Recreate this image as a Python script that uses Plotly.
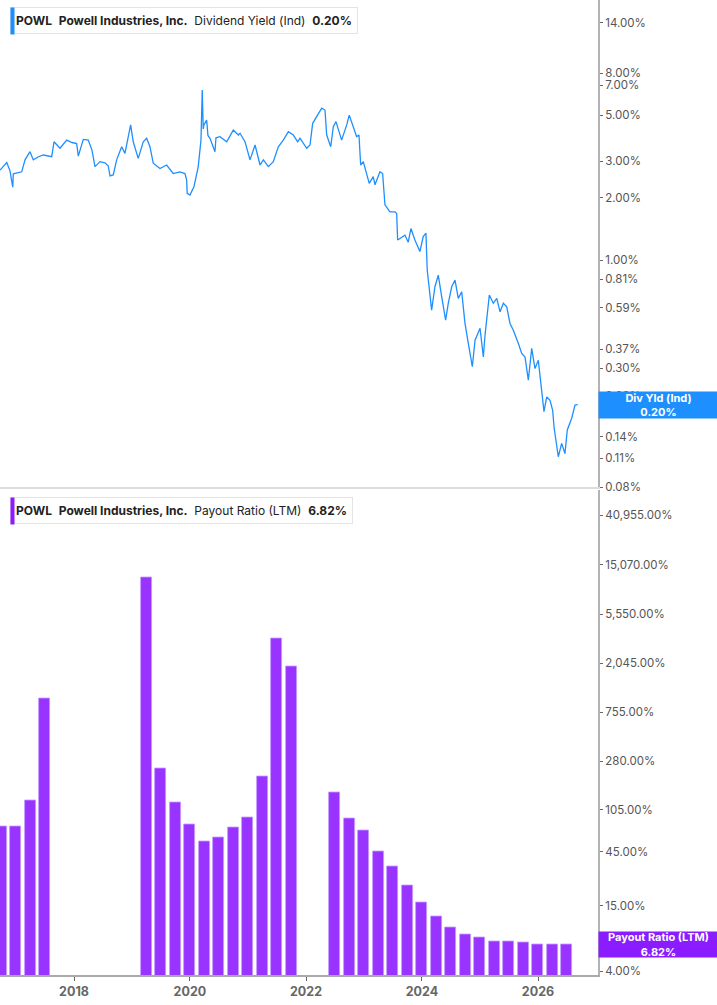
import plotly.graph_objects as go
import numpy as np
from datetime import datetime

# dividend yield (Ind), %, dates as decimal years
yld_t = [2016.724, 2016.840, 2016.896, 2016.943, 2016.953, 2017.098, 2017.155, 2017.241, 2017.298,
         2017.379, 2017.471, 2017.615, 2017.655, 2017.758, 2017.874, 2017.965, 2018.046, 2018.074,
         2018.160, 2018.246, 2018.310, 2018.362, 2018.448, 2018.534, 2018.591, 2018.621, 2018.677,
         2018.736, 2018.822, 2018.879, 2018.977, 2019.022, 2019.108, 2019.195, 2019.253, 2019.310,
         2019.367, 2019.483, 2019.598, 2019.712, 2019.827, 2019.914, 2019.943, 2019.953, 2020.000,
         2020.069, 2020.143, 2020.190, 2020.212, 2020.229, 2020.241, 2020.288, 2020.310, 2020.345,
         2020.431, 2020.448, 2020.517, 2020.633, 2020.746, 2020.833, 2020.862, 2020.948, 2021.034,
         2021.121, 2021.207, 2021.264, 2021.350, 2021.436, 2021.522, 2021.608, 2021.695, 2021.781,
         2021.857, 2021.896, 2022.012, 2022.069, 2022.115, 2022.184, 2022.271, 2022.327, 2022.357,
         2022.426, 2022.471, 2022.517, 2022.615, 2022.702, 2022.746, 2022.815, 2022.874, 2022.914,
         2022.943, 2022.988, 2023.091, 2023.160, 2023.190, 2023.276, 2023.322, 2023.362, 2023.448,
         2023.534, 2023.564, 2023.581, 2023.707, 2023.764, 2023.810, 2023.879, 2023.965, 2024.022,
         2024.069, 2024.091, 2024.126, 2024.167, 2024.224, 2024.281, 2024.340, 2024.408, 2024.453,
         2024.512, 2024.569, 2024.626, 2024.684, 2024.741, 2024.798, 2024.867, 2024.914, 2025.000,
         2025.057, 2025.086, 2025.160, 2025.229, 2025.288, 2025.345, 2025.402, 2025.460, 2025.517,
         2025.574, 2025.660, 2025.719, 2025.776, 2025.833, 2025.891, 2025.948, 2026.005, 2026.046,
         2026.103, 2026.150, 2026.207, 2026.253, 2026.276, 2026.350, 2026.408, 2026.465, 2026.505,
         2026.581, 2026.638, 2026.684]
yld_v = [2.72, 2.96, 2.70, 2.25, 2.61, 2.67, 3.05, 3.34, 3.05,
         3.15, 3.22, 3.16, 3.73, 3.47, 3.80, 3.70, 3.66, 3.18,
         3.83, 3.80, 3.40, 2.83, 2.99, 2.95, 2.85, 2.55, 2.58,
         3.05, 3.53, 3.28, 4.50, 3.73, 3.10, 3.73, 3.88, 3.53,
         2.94, 2.77, 2.88, 2.62, 2.67, 2.62, 2.44, 2.10, 2.06,
         2.26, 2.83, 3.80, 6.64, 4.30, 4.50, 4.75, 4.00, 3.88,
         3.34, 3.90, 3.95, 3.73, 4.25, 4.02, 4.10, 3.73, 3.05,
         3.60, 2.88, 3.05, 2.83, 2.99, 3.53, 3.80, 4.17, 4.02,
         3.73, 3.88, 3.47, 3.60, 4.58, 4.93, 5.42, 5.31, 4.02,
         3.53, 4.41, 4.67, 3.80, 4.50, 5.02, 4.41, 3.95, 4.02,
         2.88, 2.99, 2.35, 2.53, 2.31, 2.67, 2.62, 1.85, 1.71,
         1.71, 1.68, 1.25, 1.32, 1.22, 1.42, 1.25, 1.10, 1.30,
         1.35, 0.895, 0.703, 0.573, 0.743, 0.846, 0.665, 0.513, 0.618,
         0.743, 0.80, 0.653, 0.703, 0.494, 0.396, 0.305, 0.41, 0.468,
         0.34, 0.434, 0.678, 0.618, 0.653, 0.562, 0.618, 0.594, 0.494,
         0.458, 0.396, 0.354, 0.34, 0.263, 0.374, 0.299, 0.328, 0.253,
         0.185, 0.218, 0.21, 0.188, 0.156, 0.112, 0.13, 0.116, 0.151,
         0.172, 0.199, 0.20]

# payout ratio (LTM), % by quarter end (None = not shown)
pay_dates = ["2016-09-30", "2016-12-31", "2017-03-31", "2017-06-30", "2017-09-30", "2017-12-31",
             "2018-03-31", "2018-06-30", "2018-09-30", "2018-12-31", "2019-03-31", "2019-06-30",
             "2019-09-30", "2019-12-31", "2020-03-31", "2020-06-30", "2020-09-30", "2020-12-31",
             "2021-03-31", "2021-06-30", "2021-09-30", "2021-12-31", "2022-03-31", "2022-06-30",
             "2022-09-30", "2022-12-31", "2023-03-31", "2023-06-30", "2023-09-30", "2023-12-31",
             "2024-03-31", "2024-06-30", "2024-09-30", "2024-12-31", "2025-03-31", "2025-06-30",
             "2025-09-30", "2025-12-31", "2026-03-31", "2026-06-30"]
pay_v = [75.7, 74.8, 127, 1012, None, None,
         None, None, None, None, 11590, 244,
         122, 78, 54.8, 59.4, 72.8, 89.1,
         206, 3412, 1923, None, None, 148,
         88.5, 69.0, 44.8, 33.5, 22.8, 16.1,
         12.2, 9.69, 8.46, 7.91, 7.33, 7.29,
         7.09, 6.90, 6.90, 6.82]

yld_ticks = [14, 8, 7, 5, 3, 2, 1, 0.81, 0.59, 0.37, 0.30, 0.22, 0.14, 0.11, 0.08]
pay_ticks = [40955, 15070, 5550, 2045, 755, 280, 105, 45, 15, 4]
x_years = [2018, 2020, 2022, 2024, 2026]


def yr(t):
    y = int(t)
    a, b = datetime(y, 1, 1), datetime(y + 1, 1, 1)
    return a + (b - a) * (t - y)


BLUE = "#1e8fff"
PURPLE = "#9933ff"
FONT = "Inter"

fig = go.Figure()
fig.add_trace(go.Scatter(x=[yr(t) for t in yld_t], y=yld_v, mode="lines",
                         line=dict(color=BLUE, width=1.3), xaxis="x", yaxis="y",
                         showlegend=False))
fig.add_trace(go.Bar(x=pay_dates, y=pay_v, marker=dict(color=PURPLE, line=dict(color="#c49bff", width=0.8)),
                     width=1000 * 3600 * 24 * 69, xaxis="x2", yaxis="y2", showlegend=False))

xr = [yr(2016.724), yr(2027.035)]
fig.update_layout(
    width=717, height=1005,
    margin=dict(l=0, r=119, t=0, b=30),
    paper_bgcolor="white", plot_bgcolor="white",
    font=dict(family=FONT, color="#555555", size=12),
    xaxis=dict(domain=[0, 1], anchor="y", range=xr, type="date", showticklabels=False,
               showgrid=False, zeroline=False, showline=True, linecolor="#dcdcdc", linewidth=1.5,
               matches="x2"),
    yaxis=dict(domain=[0.5005, 1], anchor="x", type="log", side="right",
               range=[np.log10(0.08), 1.257],
               tickvals=yld_ticks, ticktext=["%.2f%%" % v for v in yld_ticks],
               showgrid=False, zeroline=False, showline=True, linecolor="#b3b3b3", linewidth=2,
               ticks="outside", ticklen=3, tickcolor="#666666",
               tickfont=dict(family=FONT, size=11.5, color="#555555")),
    xaxis2=dict(domain=[0, 1], anchor="y2", range=xr, type="date",
                tickvals=["%d-01-01" % y for y in x_years], ticktext=[str(y) for y in x_years],
                showgrid=False, zeroline=False, showline=True, linecolor="#aaaaaa", linewidth=2,
                ticks="outside", ticklen=4, tickcolor="#666666",
                tickfont=dict(family=FONT, size=12.5, color="#666666", weight="bold")),
    yaxis2=dict(domain=[0, 0.497], anchor="x2", type="log", side="right",
                range=[0.567, 4.832],
                tickvals=pay_ticks, ticktext=["{:,.2f}%".format(v) for v in pay_ticks],
                showgrid=False, zeroline=False, showline=True, linecolor="#b3b3b3", linewidth=2,
                ticks="outside", ticklen=3, tickcolor="#666666",
                tickfont=dict(family=FONT, size=11.5, color="#555555")),
    bargap=0,
)

sp = "&nbsp;&nbsp;"
anns = []
for ypx, name, val, col in [(7, "Dividend Yield (Ind)", "0.20%", BLUE),
                            (497, "Payout Ratio (LTM)", "6.82%", "#8b1cff")]:
    yp = 1 - ypx / 975
    anns.append(dict(xref="paper", yref="paper", x=10 / 598, y=yp, xanchor="left", yanchor="top",
                     text="<b>POWL</b>" + sp + "<b>Powell Industries, Inc.</b>" + sp + name + sp + "<b>" + val + "</b>",
                     showarrow=False, bgcolor="white", bordercolor="#e4e4e4", borderwidth=1, borderpad=5,
                     font=dict(family=FONT, size=12, color="#222222"), align="left"))
    anns.append(dict(xref="paper", yref="paper", x=10 / 598, y=yp, xanchor="left", yanchor="top",
                     text=" ", showarrow=False, bgcolor=col, width=3, height=26, borderpad=0,
                     font=dict(size=1)))

anns.append(dict(xref="paper", yref="y", x=1, y=np.log10(0.20), xanchor="left", yanchor="middle",
                 text="<b>Div Yld (Ind)<br>0.20%</b>", showarrow=False, bgcolor=BLUE, width=119, height=26,
                 borderpad=0, font=dict(family=FONT, size=11, color="white"), align="center"))
anns.append(dict(xref="paper", yref="y2", x=1, y=np.log10(6.82), xanchor="left", yanchor="middle",
                 text="<b>Payout Ratio (LTM)<br>6.82%</b>", showarrow=False, bgcolor="#8b1cff", width=119, height=25,
                 borderpad=0, font=dict(family=FONT, size=11, color="white"), align="center"))
fig.update_layout(annotations=anns)

fig.write_html("out.html", config={"displayModeBar": False},
               post_script="document.body.style.margin='0px';")
